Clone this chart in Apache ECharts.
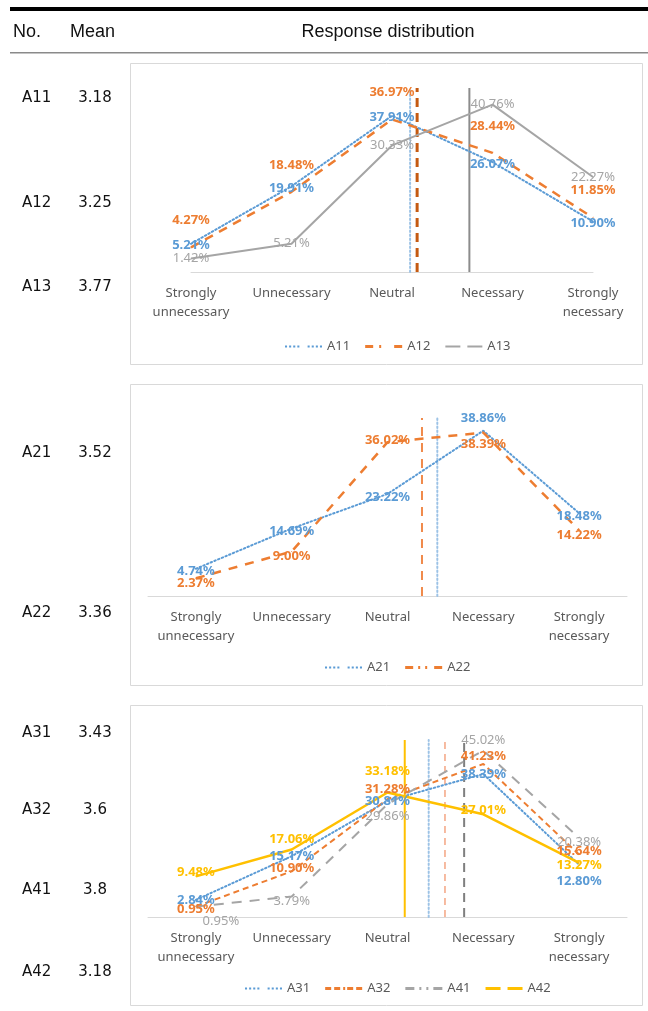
<!DOCTYPE html>
<html>
<head>
<meta charset="utf-8">
<script src="https://cdn.jsdelivr.net/npm/echarts@6/dist/echarts.min.js"></script>
<style>
  html, body { margin: 0; padding: 0; background: #ffffff; }
  #chart { width: 648px; height: 1011px; }
</style>
</head>
<body>
<div id="chart"></div>
<script>
// ---- data ----
const categories = ['Strongly\nunnecessary', 'Unnecessary', 'Neutral', 'Necessary', 'Strongly\nnecessary'];

const itemIds   = ['A11', 'A12', 'A13', 'A21', 'A22', 'A31', 'A32', 'A41', 'A42'];
const itemMeans = [3.18, 3.25, 3.77, 3.52, 3.36, 3.43, 3.6, 3.8, 3.18];

// response shares (%) per item, in category order
const A11 = [5.21, 19.91, 37.91, 26.07, 10.90];
const A12 = [4.27, 18.48, 36.97, 28.44, 11.85];
const A13 = [1.42, 5.21, 30.33, 40.76, 22.27];
const A21 = [4.74, 14.69, 23.22, 38.86, 18.48];
const A22 = [2.37, 9.00, 36.02, 38.39, 14.22];
const A31 = [2.84, 15.17, 30.81, 38.39, 12.80];
const A32 = [0.95, 10.90, 31.28, 41.23, 15.64];
const A41 = [0.95, 3.79, 29.86, 45.02, 20.38];
const A42 = [9.48, 17.06, 33.18, 27.01, 13.27];

const seriesValues = { A11, A12, A13, A21, A22, A31, A32, A41, A42 };

// ---- styling ----
const FONT = '"Noto Sans", "Open Sans", sans-serif';
const BLUE = '#5B9BD5', ORANGE = '#ED7D31', GRAY = '#A5A5A5', YELLOW = '#FFC000';

const dotted = [1.5, 2.5];
const styles = {
  A11: { color: BLUE,   line: { type: dotted, width: 2, cap: 'round' }, bold: true,  offset: [0, 2],
         mean: { color: '#9DC3E6', type: dotted, width: 2, cap: 'round' } },
  A12: { color: ORANGE, line: { type: [9, 7], width: 2.5 }, bold: true, offset: [0, -27],
         mean: { color: '#C55A11', type: [9, 6], width: 3 } },
  A13: { color: GRAY,   line: { type: 'solid', width: 2 }, bold: false, offset: [0, 0],
         mean: { color: '#8C8C8C', type: 'solid', width: 2 } },
  A21: { color: BLUE,   line: { type: dotted, width: 2, cap: 'round' }, bold: true, offset: [0, 3],
         mean: { color: '#9DC3E6', type: dotted, width: 2, cap: 'round' } },
  A22: { color: ORANGE, line: { type: [9, 8], width: 2.5 }, bold: true, offset: [0, 5],
         mean: { color: '#F08A4B', type: [9, 7], width: 2 } },
  A31: { color: BLUE,   line: { type: dotted, width: 2, cap: 'round' }, bold: true, offset: [0, 0],
         mean: { color: '#9DC3E6', type: dotted, width: 2, cap: 'round' } },
  A32: { color: ORANGE, line: { type: [6, 4], width: 2 }, bold: true, offset: [0, -3],
         mean: { color: '#F4A582', type: [7, 5], width: 1.5 } },
  A41: { color: GRAY,   line: { type: [10, 8], width: 2 }, bold: false, offset: [0, 5],
         mean: { color: '#7F7F7F', type: [9, 6], width: 2 } },
  A42: { color: YELLOW, line: { type: 'solid', width: 2.5 }, bold: true, offset: [0, -4],
         mean: { color: YELLOW, type: 'solid', width: 2 } }
};

// extra label shifts for crowded points (per category)
const labelNudge = {
  A21: [null, null, null, [0, -15], null],
  A22: [null, null, [0, -7], [0, 7], null],
  A31: [null, null, null, null, [0, 17]],
  A32: [[0, 6], null, [0, -7], [0, -5], null],
  A41: [[25, 10], null, [0, 7], [0, -15], null],
  A42: [null, [0, -6], [0, -17], null, [0, 6]]
};

// legend glyphs: two short strokes with a gap, in the series' dash style
const legendIcons = {
  A11: 'path://M0,0h2v2h-2zM4,0h2v2h-2zM8,0h2v2h-2zM12,0h2v2h-2zM22,0h2v2h-2zM26,0h2v2h-2zM30,0h2v2h-2zM34,0h2v2h-2z',
  A12: 'path://M0,0h8v3h-8zM14,0h2v3h-2zM29,0h8v3h-8z',
  A13: 'path://M0,0h15v2h-15zM22,0h15v2h-15z',
  A21: 'path://M0,0h2v2h-2zM4,0h2v2h-2zM8,0h2v2h-2zM12,0h2v2h-2zM22,0h2v2h-2zM26,0h2v2h-2zM30,0h2v2h-2zM34,0h2v2h-2z',
  A22: 'path://M0,0h8v3h-8zM13,0h2v3h-2zM20,0h2v3h-2zM29,0h8v3h-8z',
  A31: 'path://M0,0h2v2h-2zM4,0h2v2h-2zM8,0h2v2h-2zM12,0h2v2h-2zM22,0h2v2h-2zM26,0h2v2h-2zM30,0h2v2h-2zM34,0h2v2h-2z',
  A32: 'path://M0,0h6v3h-6zM9,0h6v3h-6zM18,0h2v3h-2zM22,0h6v3h-6zM31,0h6v3h-6z',
  A41: 'path://M0,0h9v3h-9zM14,0h2v3h-2zM21,0h2v3h-2zM28,0h9v3h-9z',
  A42: 'path://M0,0h15v3h-15zM22,0h15v3h-15z'
};

// three framed panels
const panels = [
  { grid: { left: 191, top: 88, width: 402, height: 184 }, x: [1, 5], y: [-2, 45],
    items: ['A11', 'A12', 'A13'], legend: { left: 280, top: 335 }, box: [130, 63, 512, 301] },
  { grid: { left: 148, top: 418, width: 479, height: 178 }, x: [0.5, 5.5], y: [-2, 42],
    items: ['A21', 'A22'], legend: { left: 320, top: 656 }, box: [130, 384, 512, 301] },
  { grid: { left: 148, top: 740, width: 479, height: 177 }, x: [0.5, 5.5], y: [-2, 48],
    items: ['A31', 'A32', 'A41', 'A42'], legend: { left: 240, top: 977 }, box: [130, 705, 512, 300] }
];

// row positions of the item / mean column
const rowY = { A11: 98, A12: 203, A13: 287, A21: 453, A22: 613, A31: 733, A32: 810, A41: 890, A42: 972 };

const meanOf = id => itemMeans[itemIds.indexOf(id)];

const grids = [], xAxes = [], yAxes = [], series = [], legends = [], graphics = [];

panels.forEach((p, i) => {
  grids.push(Object.assign({}, p.grid));
  xAxes.push({
    type: 'value', gridIndex: i, min: p.x[0], max: p.x[1],
    splitLine: { show: false }, axisTick: { show: false },
    axisLine: { show: true, onZero: false, lineStyle: { color: '#D9D9D9', width: 1 } },
    axisLabel: {
      customValues: [1, 2, 3, 4, 5],
      formatter: v => categories[Math.round(v) - 1],
      color: '#595959', fontSize: 13, lineHeight: 19, margin: 12, fontFamily: FONT,
      align: 'center'
    }
  });
  yAxes.push({ type: 'value', gridIndex: i, min: p.y[0], max: p.y[1], show: false });

  p.items.forEach(id => {
    const st = styles[id];
    const nudges = labelNudge[id] || [];
    const mean = meanOf(id);
    // vertical marker at the item's mean score
    series.push({
      name: id + ' mean', type: 'line', xAxisIndex: i, yAxisIndex: i,
      data: [[mean, p.y[0]], [mean, p.y[1]]],
      symbol: 'none', silent: true, z: 1,
      lineStyle: st.mean, itemStyle: { color: st.mean.color }
    });
    // distribution line with percentage labels
    series.push({
      name: id, type: 'line', xAxisIndex: i, yAxisIndex: i, z: 3,
      data: seriesValues[id].map((v, k) => {
        const n = nudges[k];
        const item = { value: [k + 1, v] };
        if (n) item.label = { offset: [st.offset[0] + n[0], st.offset[1] + n[1]] };
        return item;
      }),
      symbol: 'circle', symbolSize: 1, showSymbol: true,
      itemStyle: { color: st.color },
      lineStyle: Object.assign({ color: st.color }, st.line),
      label: {
        show: true, position: 'inside', offset: st.offset,
        formatter: q => q.value[1].toFixed(2) + '%',
        color: st.color, fontSize: 13, fontFamily: FONT,
        fontWeight: st.bold ? 'bold' : 'normal'
      },
      emphasis: { disabled: true }, silent: true
    });
  });

  legends.push({
    left: p.legend.left, top: p.legend.top, orient: 'horizontal',
    itemWidth: 37, itemHeight: 3, itemGap: 15, selectedMode: false,
    itemStyle: { borderWidth: 0 },
    data: p.items.map(id => ({ name: id, icon: legendIcons[id] })),
    textStyle: { color: '#595959', fontSize: 13, fontFamily: FONT }
  });

  graphics.push({
    type: 'rect', silent: true, z: 0,
    shape: { x: p.box[0] + 0.5, y: p.box[1] + 0.5, width: p.box[2], height: p.box[3] },
    style: { fill: 'none', stroke: '#D9D9D9', lineWidth: 1 }
  });
});

// table header
graphics.push(
  { type: 'rect', silent: true, shape: { x: 10, y: 7, width: 638, height: 4 }, style: { fill: '#000000' } },
  { type: 'rect', silent: true, shape: { x: 10, y: 52, width: 638, height: 1.5 }, style: { fill: '#8A8A8A' } },
  { type: 'text', silent: true, x: 13, y: 32, style: { text: 'No.', font: '18px "Liberation Sans", Arial, sans-serif', fill: '#111', verticalAlign: 'middle' } },
  { type: 'text', silent: true, x: 70, y: 32, style: { text: 'Mean', font: '18px "Liberation Sans", Arial, sans-serif', fill: '#111', verticalAlign: 'middle' } },
  { type: 'text', silent: true, x: 388, y: 32, style: { text: 'Response distribution', font: '18px "Liberation Sans", Arial, sans-serif', fill: '#111', align: 'center', verticalAlign: 'middle' } }
);

// item id and mean column
itemIds.forEach((id, k) => {
  graphics.push(
    { type: 'text', silent: true, x: 22, y: rowY[id], style: { text: id, font: '15px "DejaVu Sans", sans-serif', fill: '#111', verticalAlign: 'middle' } },
    { type: 'text', silent: true, x: 95, y: rowY[id], style: { text: String(itemMeans[k]), font: '15px "DejaVu Sans", sans-serif', fill: '#111', align: 'center', verticalAlign: 'middle' } }
  );
});

const chart = echarts.init(document.getElementById('chart'));
chart.setOption({
  animation: false,
  backgroundColor: '#ffffff',
  grid: grids,
  xAxis: xAxes,
  yAxis: yAxes,
  legend: legends,
  series: series,
  graphic: { elements: graphics }
});
</script>
</body>
</html>
